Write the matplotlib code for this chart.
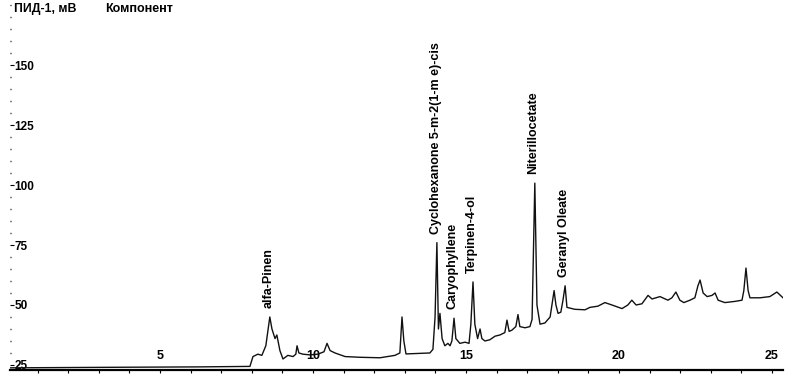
import matplotlib
matplotlib.use("Agg")
import matplotlib.pyplot as plt
from matplotlib.ticker import MultipleLocator, FixedLocator

# Chromatogram trace (time, min ; signal, mV)
times = [0.10, 3.04, 6.31, 7.94, 8.04, 8.20, 8.33, 8.46, 8.59, 8.66, 8.76, 8.82, 8.92, 9.02,
         9.18, 9.35, 9.44, 9.48, 9.54, 9.67, 9.90, 10.16, 10.36, 10.46, 10.56, 10.72, 11.05,
         11.54, 12.19, 12.68, 12.84, 12.91, 12.97, 13.04, 13.82, 13.92, 13.99, 14.05, 14.10,
         14.15, 14.22, 14.31, 14.41, 14.48, 14.54, 14.61, 14.67, 14.80, 14.97, 15.10, 15.16,
         15.23, 15.29, 15.38, 15.46, 15.52, 15.62, 15.78, 15.95, 16.11, 16.27, 16.34, 16.41,
         16.50, 16.63, 16.70, 16.76, 16.93, 17.09, 17.16, 17.25, 17.32, 17.42, 17.58, 17.75,
         17.88, 17.94, 18.01, 18.10, 18.17, 18.24, 18.30, 18.56, 18.89, 19.05, 19.31, 19.54,
         19.77, 20.10, 20.29, 20.42, 20.56, 20.75, 20.95, 21.08, 21.34, 21.60, 21.73, 21.86,
         21.99, 22.12, 22.32, 22.48, 22.58, 22.65, 22.75, 22.88, 23.04, 23.14, 23.24, 23.46,
         23.79, 24.02, 24.08, 24.15, 24.22, 24.28, 24.61, 24.93, 25.16, 25.36]
signal = [23.8, 24.0, 24.2, 24.4, 28.5, 29.5, 29.0, 33.0, 45.0, 40.0, 36.0, 37.5, 31.0, 27.5,
          29.0, 28.5, 29.5, 33.0, 30.0, 29.5, 29.2, 29.5, 30.5, 34.0, 31.0, 30.0, 28.5,
          28.2, 28.0, 29.0, 30.0, 45.0, 35.0, 29.6, 30.0, 31.5, 45.0, 76.0, 40.0,
          46.5, 36.0, 33.0, 34.0, 33.0, 35.0, 44.5, 36.0, 34.0, 34.5, 34.0, 42.0,
          59.6, 42.0, 36.0, 40.0, 36.0, 35.0, 35.5, 37.0, 37.5, 38.5, 43.7, 39.0,
          39.5, 41.0, 46.0, 41.0, 40.5, 41.0, 44.0, 100.8, 50.0, 42.0, 42.5, 45.0,
          56.0, 50.0, 46.5, 47.0, 52.0, 58.0, 49.0, 48.2, 48.0, 49.0, 49.5, 51.0,
          50.0, 48.5, 50.0, 52.0, 50.0, 50.5, 54.0, 52.5, 53.5, 52.0, 53.0, 55.4,
          52.0, 51.0, 52.0, 53.0, 58.0, 60.4, 55.0, 53.5, 54.0, 55.0, 52.0, 51.0,
          51.5, 52.0, 56.0, 65.4, 56.0, 53.0, 53.0, 53.5, 55.4, 53.0]

# Peak annotations
peak_times = [8.59, 14.05, 14.61, 15.23, 17.25, 18.24]
peak_values = [45.0, 76.0, 44.5, 59.6, 100.8, 58.0]
peak_names = ["alfa-Pinen", "Cyclohexanone 5-m-2(1-m e)-cis", "Caryophyllene",
              "Terpinen-4-ol", "Niterillocetate", "Geranyl Oleate"]

x_ticks = [5, 10, 15, 20, 25]
y_ticks = [25, 50, 75, 100, 125, 150]

plt.rcParams['font.family'] = ['Liberation Sans', 'DejaVu Sans']

W, H = 794, 386
fig = plt.figure(figsize=(W / 100, H / 100), dpi=100)
ax_l, ax_r, ax_b, ax_t = 10, 783, 370, 2
ax = fig.add_axes([ax_l / W, 1 - ax_b / H, (ax_r - ax_l) / W, (ax_b - ax_t) / H])
ax.set_xlim(0.1, 25.36)
ax.set_ylim(22.9, 176.3)

ax.plot(times, signal, color='#111111', lw=1.0)

for t, v, name in zip(peak_times, peak_values, peak_names):
    ax.annotate(name, xy=(t, v), xytext=(-1, 6.5), textcoords='offset points',
                rotation=90, ha='center', va='bottom', fontsize=9,
                fontweight='bold', color='black')

for s in ['left', 'right', 'top']:
    ax.spines[s].set_visible(False)
ax.spines['bottom'].set_linewidth(1.6)

ax.xaxis.set_major_locator(FixedLocator(x_ticks))
ax.xaxis.set_minor_locator(MultipleLocator(1))
ax.set_xticklabels([str(v) for v in x_ticks], fontsize=9, fontweight='bold', va='bottom')
ax.tick_params(axis='x', which='both', direction='out', length=2, width=0.8, pad=-7.5)

ax.yaxis.set_major_locator(FixedLocator(y_ticks))
ax.yaxis.set_minor_locator(MultipleLocator(5))
ax.set_yticklabels([str(v) for v in y_ticks], fontsize=8.5, fontweight='bold', ha='left')
ax.tick_params(axis='y', which='major', direction='in', length=3, width=0.8, pad=-3)
ax.tick_params(axis='y', which='minor', direction='in', length=1.0, width=1.0)

fig.text(14 / W, 1 - 9 / H, "ПИД-1, мВ", fontsize=8.8, fontweight='bold', va='center', ha='left')
fig.text(105 / W, 1 - 9 / H, "Компонент", fontsize=9, fontweight='bold', va='center', ha='left')

fig.savefig("out.png", dpi=100)
